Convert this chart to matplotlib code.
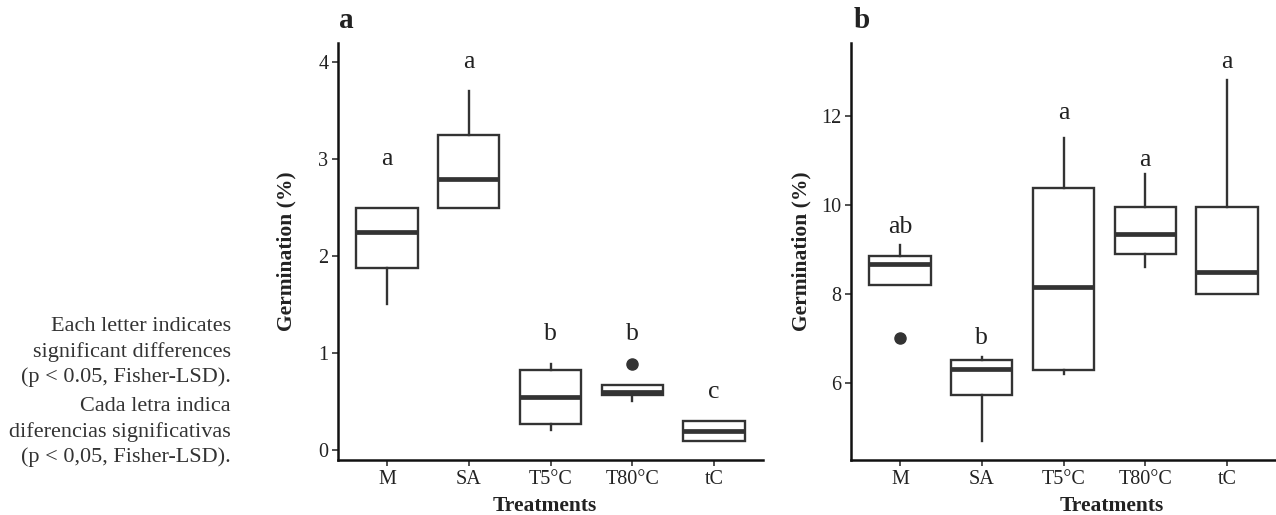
import matplotlib
matplotlib.use("Agg")
import matplotlib.pyplot as plt

plt.rcParams['font.family'] = ['Liberation Serif', 'DejaVu Serif']

treatments = ['M', 'SA', 'T5°C', 'T80°C', 'tC']

# panel a - seed germination (%)
a_q1 = [1.88, 2.50, 0.275, 0.57, 0.10]
a_med = [2.25, 2.80, 0.55, 0.60, 0.20]
a_q3 = [2.50, 3.25, 0.825, 0.67, 0.30]
a_lo = [1.51, 2.50, 0.21, 0.51, 0.10]
a_hi = [2.50, 3.70, 0.89, 0.67, 0.30]
a_out = [[], [], [], [0.89], []]
a_letters = ['a', 'a', 'b', 'b', 'c']
a_letter_y = [3.0, 4.0, 1.2, 1.2, 0.6]

# panel b
b_q1 = [8.19, 5.74, 6.28, 8.90, 8.00]
b_med = [8.68, 6.31, 8.15, 9.35, 8.49]
b_q3 = [8.84, 6.52, 10.38, 9.95, 9.95]
b_lo = [8.19, 4.70, 6.20, 8.60, 8.00]
b_hi = [9.09, 6.59, 11.49, 10.70, 12.80]
b_out = [[7.0], [], [], [], []]
b_letters = ['ab', 'b', 'a', 'a', 'a']
b_letter_y = [9.5, 7.0, 12.05, 11.0, 13.2]

note_en = "Each letter indicates\nsignificant differences\n(p < 0.05, Fisher-LSD)."
note_es = "Cada letra indica\ndiferencias significativas\n(p < 0,05, Fisher-LSD)."

W, H = 1276, 515
fig = plt.figure(figsize=(W / 100, H / 100), dpi=100)

line_col = '#333333'


def draw_panel(ax, q1, med, q3, lo, hi, out, letters, letter_y, ylim, yticks, xlab_x, ylab_x):
    stats = []
    for i in range(len(treatments)):
        stats.append(dict(q1=q1[i], med=med[i], q3=q3[i], whislo=lo[i], whishi=hi[i], fliers=out[i]))
    ax.bxp(stats, positions=list(range(1, len(treatments) + 1)), widths=0.75,
           showcaps=False, patch_artist=True,
           boxprops=dict(facecolor='white', edgecolor=line_col, linewidth=1.7),
           whiskerprops=dict(color=line_col, linewidth=1.7),
           medianprops=dict(color=line_col, linewidth=3.4, solid_capstyle='butt'),
           flierprops=dict(marker='o', markerfacecolor=line_col, markeredgecolor=line_col, markersize=8))
    for i, (lt, ly) in enumerate(zip(letters, letter_y)):
        ax.text(i + 1, ly, lt, ha='center', va='center', fontsize=18.5, color='#222222')

    ax.set_xlim(0.4, 5.6)
    ax.set_ylim(*ylim)
    ax.set_xticks(list(range(1, len(treatments) + 1)))
    ax.set_xticklabels(treatments)
    ax.set_yticks(yticks)
    for side in ['top', 'right']:
        ax.spines[side].set_visible(False)
    for side in ['left', 'bottom']:
        ax.spines[side].set_linewidth(1.8)
        ax.spines[side].set_color('#111111')
    ax.tick_params(axis='both', length=4, width=1.2, color=line_col, labelsize=14.5,
                   labelcolor='#222222', pad=3)
    ax.set_xlabel('Treatments', fontsize=15.5, fontweight='bold', color='#222222')
    ax.set_ylabel('Germination (%)', fontsize=15.5, fontweight='bold', color='#222222')
    ax.xaxis.set_label_coords(xlab_x, -0.086)
    ax.yaxis.set_label_coords(ylab_x, 0.5)


bottom = (H - 460) / H
top = (H - 43) / H
ax_a = fig.add_axes([338 / W, bottom, (763 - 338) / W, top - bottom])
ax_b = fig.add_axes([851 / W, bottom, (1276 - 851) / W, top - bottom])

draw_panel(ax_a, a_q1, a_med, a_q3, a_lo, a_hi, a_out, a_letters, a_letter_y,
           (-0.1, 4.2), [0, 1, 2, 3, 4], 0.487, -0.097)
draw_panel(ax_b, b_q1, b_med, b_q3, b_lo, b_hi, b_out, b_letters, b_letter_y,
           (4.27, 13.63), [6, 8, 10, 12], 0.614, -0.093)

fig.text(346 / W, 1 - 21 / H, 'a', fontsize=21, fontweight='bold', ha='center', va='center', color='#222222')
fig.text(862 / W, 1 - 21 / H, 'b', fontsize=21, fontweight='bold', ha='center', va='center', color='#222222')

fig.text(231 / W, 1 - 352 / H, note_en, ha='right', va='center', fontsize=16,
         linespacing=1.36, color='#333333')
fig.text(231 / W, 1 - 432 / H, note_es, ha='right', va='center', fontsize=16,
         linespacing=1.36, color='#333333')

fig.savefig('out.png', dpi=100)
